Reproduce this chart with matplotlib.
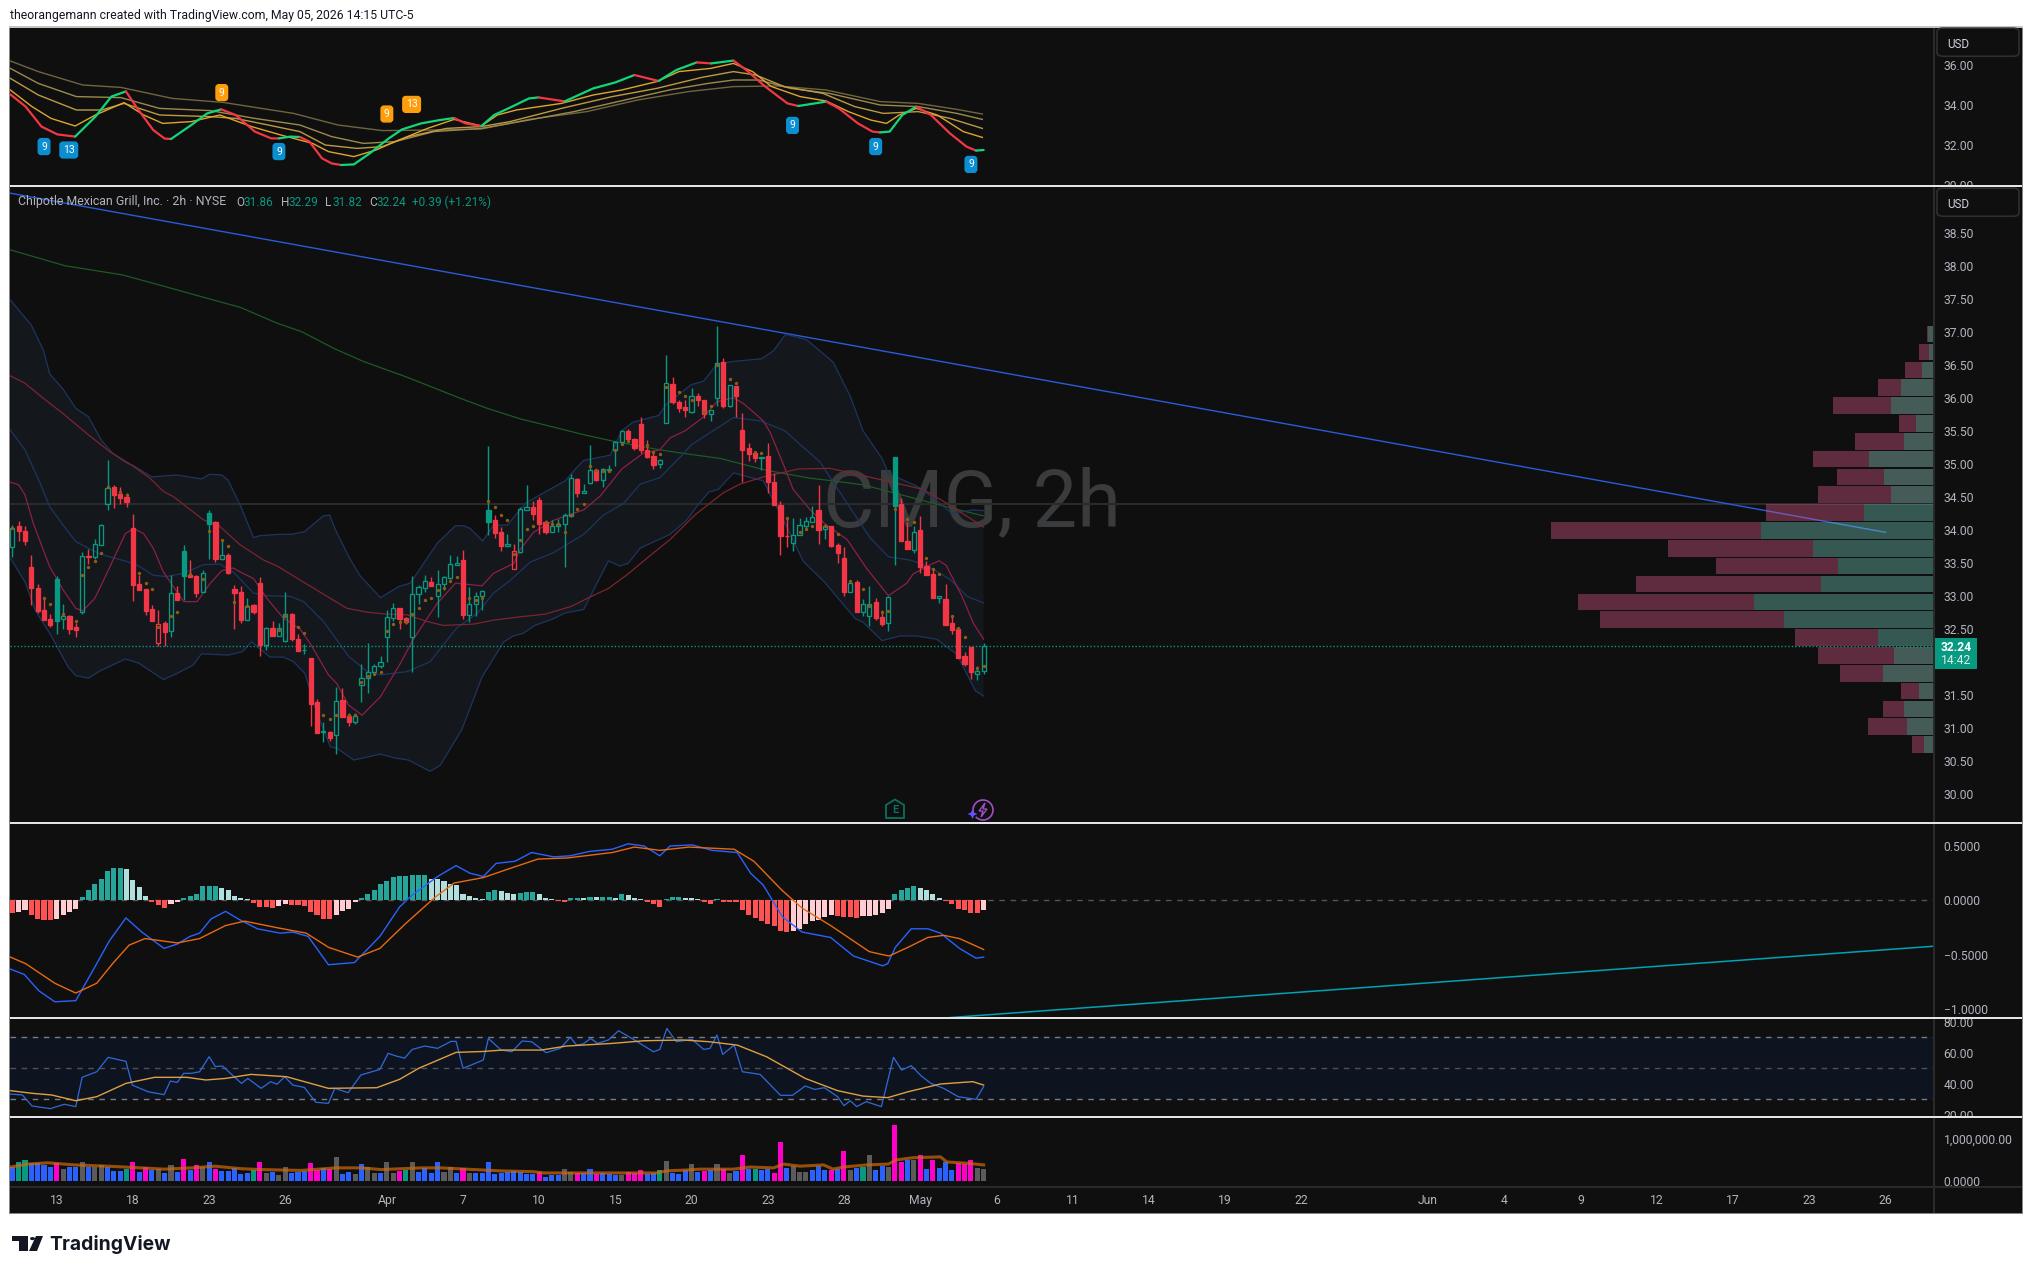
import matplotlib
matplotlib.use("Agg")
import matplotlib.pyplot as plt
import numpy as np
from matplotlib.patches import Circle, FancyBboxPatch, Polygon, Rectangle
from matplotlib.transforms import Bbox, TransformedBbox

W, H = 2032, 1274

# ---- candles (price values)
candle_high = [34.07,34.13,34.06,33.62,33.18,32.98,32.72,33.30,32.87,32.71,32.59,33.66,33.71,33.86,34.09,35.06,34.67,34.65,34.56,34.24,
 33.31,33.10,32.86,32.78,32.61,33.32,33.15,33.77,33.54,33.31,33.39,34.30,34.13,33.85,33.64,33.16,33.15,32.96,32.87,33.28,
 32.53,32.62,32.59,33.06,32.74,32.42,32.27,32.05,31.44,31.09,30.95,31.62,31.60,31.23,31.23,31.97,32.28,31.97,32.09,32.78,
 32.89,32.82,32.68,33.30,33.16,33.31,33.28,33.39,33.30,33.62,33.60,33.69,33.13,33.05,33.09,35.27,34.22,34.04,33.93,33.78,
 34.35,34.68,34.44,34.49,34.14,34.14,34.16,34.25,34.85,34.78,34.69,35.28,34.92,34.93,34.98,35.34,35.51,35.52,35.39,35.71,
 35.36,35.18,35.07,36.65,36.32,35.97,35.96,36.14,36.07,35.97,35.82,37.09,36.60,36.19,36.18,35.77,35.31,35.20,35.10,35.31,
 34.86,34.44,34.18,34.18,34.18,34.19,34.36,34.68,34.09,34.06,33.80,33.74,33.24,33.24,32.95,33.15,32.96,32.78,33.00,35.10,
 34.48,34.12,34.06,34.21,33.52,33.40,33.00,33.18,32.69,32.51,32.15,32.23,31.93,32.29]
candle_top = [34.03,34.06,33.98,33.43,33.12,32.79,32.64,33.25,32.70,32.70,32.53,33.60,33.60,33.78,34.07,34.63,34.65,34.54,34.50,34.03,
 33.18,33.10,32.80,32.57,32.59,33.04,33.04,33.68,33.31,33.30,33.35,34.25,34.12,33.61,33.62,33.10,33.06,32.85,32.86,33.19,
 32.51,32.51,32.51,32.73,32.72,32.35,32.18,32.05,31.39,30.94,30.94,31.41,31.42,31.18,31.17,31.76,31.85,31.93,31.99,32.67,
 32.81,32.81,32.66,33.02,33.13,33.22,33.21,33.17,33.28,33.48,33.49,33.54,32.88,32.99,33.07,34.30,34.15,33.97,33.79,33.67,
 34.32,34.35,34.35,34.45,34.12,34.05,34.09,34.22,34.78,34.77,34.58,34.90,34.90,34.92,34.92,35.33,35.49,35.49,35.38,35.60,
 35.21,35.12,35.06,36.22,36.21,35.94,35.86,36.03,36.03,35.96,35.81,36.52,36.54,36.19,36.18,35.51,35.24,35.16,35.10,35.12,
 34.73,34.38,33.90,33.92,34.07,34.13,34.20,34.30,34.06,34.06,33.77,33.57,33.20,33.21,32.87,32.88,32.90,32.68,32.98,35.10,
 34.39,33.83,33.96,34.00,33.45,33.33,32.99,32.95,32.59,32.50,32.09,32.23,31.86,32.24]
candle_bot = [33.74,33.98,33.83,33.11,32.77,32.63,32.56,32.62,32.64,32.49,32.48,32.76,33.59,33.58,33.77,34.39,34.53,34.48,34.42,33.16,
 33.09,32.77,32.62,32.29,32.45,32.47,32.94,33.30,33.28,33.04,33.05,34.09,33.56,33.56,33.34,33.04,32.63,32.63,32.75,32.25,
 32.26,32.39,32.39,32.32,32.34,32.16,32.17,31.36,30.92,30.94,30.84,30.89,31.16,31.09,31.09,31.64,31.75,31.85,31.93,32.38,
 32.66,32.65,32.60,32.38,33.02,33.12,33.15,33.00,33.17,33.27,33.47,32.71,32.71,32.88,32.99,34.12,33.95,33.75,33.76,33.41,
 33.66,34.30,34.24,34.09,33.97,33.97,34.05,34.09,34.21,34.56,34.56,34.71,34.75,34.76,34.91,35.21,35.33,35.37,35.24,35.21,
 35.10,34.98,34.99,35.61,35.94,35.84,35.82,35.79,35.96,35.76,35.76,36.00,35.88,35.88,36.03,35.21,35.15,35.09,35.09,34.73,
 34.38,33.90,33.90,33.80,33.92,34.05,34.12,34.00,34.01,33.76,33.64,33.06,33.05,32.76,32.76,32.69,32.66,32.57,32.58,34.36,
 33.83,33.71,33.70,33.44,33.32,32.97,32.97,32.56,32.48,32.06,31.96,31.84,31.82,31.86]
candle_low = [33.59,33.83,33.77,32.86,32.74,32.63,32.53,32.42,32.49,32.42,32.38,32.73,33.48,33.55,33.77,34.30,34.33,34.39,34.35,32.92,
 33.09,32.71,32.62,32.24,32.24,32.38,32.94,32.94,33.28,32.98,33.05,33.56,33.51,33.54,33.33,32.50,32.58,32.63,32.72,32.09,
 32.18,32.39,32.39,32.30,32.32,32.16,32.12,31.03,30.92,30.78,30.80,30.60,31.16,31.03,31.06,31.39,31.53,31.80,31.90,31.99,
 32.62,32.50,32.57,31.84,32.88,33.06,33.15,32.68,33.09,33.26,33.47,32.64,32.60,32.69,32.79,33.92,33.87,33.68,33.76,33.41,
 33.65,34.30,34.15,33.93,33.94,33.97,33.97,33.43,34.19,34.50,34.55,34.69,34.74,34.64,34.87,34.97,35.29,35.37,35.21,35.16,
 35.08,34.92,34.94,35.61,35.90,35.79,35.71,35.77,35.87,35.70,35.65,35.87,35.84,35.86,35.71,34.73,35.04,35.02,34.91,34.55,
 34.38,33.62,33.74,33.68,33.92,34.01,34.12,33.79,33.86,33.74,33.50,32.99,33.05,32.76,32.69,32.54,32.63,32.54,32.46,33.47,
 33.83,33.71,33.65,33.35,33.31,32.97,32.89,32.56,32.42,32.05,31.93,31.74,31.73,31.82]
# g hollow green, G filled green, r filled red, R hollow red
candle_kind = ("grrrrrrGgr" "rgrgggrrrr" "rrrRrgrGrr" "gGrgrrrgrr" "grggrrgrrg" "rgrrgggggg" "grrgggrggg" "grgggGrrgR"
               "ggrrrggggr" "ggrggggrrr" "rrggrrrgrr" "ggrgrrrrgr" "rrrggggrgr" "rrgrggrrgG" "rrgrrrgrrr" "rrgg")

# small orange dots on the candles
dot_i = [0,5,6,8,10,11,12,13,14,15,17,18,20,21,22,23,25,26,28,30,31,33,34,35,37,42,43,45,46,49,50,51,53,54,55,56,57,58,59,60,61,62,63,64,65,66,67,68,69,70,72,73,74,75,76,77,78,79,
 80,81,82,84,85,86,87,88,89,90,91,92,93,94,95,96,97,100,101,102,103,105,106,107,109,110,111,113,114,117,118,122,124,125,126,128,130,132,134,135,137,138,139,141,142,144,145,146,148,149,150,152,153]
dot_p = [34.02,32.96,32.88,32.73,32.62,33.32,33.43,33.52,33.64,34.65,34.57,34.53,33.35,33.20,33.10,32.52,32.69,32.75,33.33,33.26,33.98,33.84,33.76,32.90,32.84,32.48,32.69,32.52,32.43,31.19,31.13,31.20,31.20,31.20,31.70,31.78,31.81,31.84,32.47,32.57,32.60,32.60,32.72,32.81,32.93,32.97,33.08,33.11,33.23,33.28,32.96,32.94,32.96,34.43,34.34,34.22,34.14,33.63,
 33.85,34.01,34.06,34.12,34.09,34.09,33.96,34.22,34.32,34.39,34.96,34.90,34.89,34.89,35.21,35.30,35.35,35.29,35.18,35.14,36.16,36.08,36.02,35.97,35.78,35.88,36.49,36.28,36.22,35.18,35.16,34.17,33.96,34.01,34.05,34.06,33.93,33.23,33.10,32.85,32.76,32.77,34.31,34.16,34.11,33.57,33.40,33.33,32.69,32.51,32.37,31.90,31.94]

# ---- overlays on the main pane: bar index and price at each visible bend
bb_upper_i = [-0.3,3,4.9,5.9,8,10,12,14,15.9,18,19.1,22,25.9,29.8,31.1,33,34,36,38,39,42.2,44,46,49,50,50.9,53,54.8,58,60.9,62.7,66.9,69.8,71.1,72.1,74.1,75.8,78,80.8,83.7,87.1,88.7,90,94.2,96,97.8,101.8,103.1,107,108.9,111,113.6,118,119.9,121.8,125.1,129.3,132,134,137,138,142.5,145.1,148,151.4,153]
bb_upper_p = [37.48,37.10,36.72,36.36,36.13,35.84,35.71,35.36,35.15,35.01,34.97,34.80,34.83,34.77,34.84,34.83,34.75,34.35,33.88,33.91,33.93,33.93,33.97,34.21,34.22,34.0,33.59,33.30,32.97,33.14,33.19,33.79,34.06,34.06,34.02,33.83,34.07,34.07,34.40,34.56,34.74,34.92,35.05,35.13,35.50,35.63,35.73,35.91,36.20,36.25,36.51,36.55,36.59,36.71,36.96,36.88,36.54,36.02,35.50,35.08,34.85,34.66,34.48,34.25,34.30,34.29]
bb_mid_i = [-0.3,2,4.4,5.9,8,10,13.8,18,20.1,22.2,24.3,27,30.1,32.7,34.8,38,40.1,43.8,45.9,49,53,55.9,58,62.2,65.8,70,73.2,75.8,78.4,81.6,85.2,90,93.1,96.3,98.9,102,105.5,107,110.4,113.6,117.8,121.7,124.1,127.2,131.5,135.1,138,141.4,144,147.7,150.4,153]
bb_mid_p = [35.51,35.21,34.70,34.35,34.07,33.82,33.63,33.52,33.44,33.31,33.29,33.34,33.47,33.48,33.36,33.04,33.00,32.99,32.91,32.61,32.08,31.85,31.80,31.85,32.0,32.51,32.73,33.04,33.23,33.51,33.65,33.93,34.22,34.40,34.69,34.79,35.13,35.29,35.50,35.70,35.65,35.50,35.29,35.03,34.40,33.88,33.59,33.54,33.46,33.25,32.99,32.89]
bb_lower_i = [-0.3,2,3.6,5.9,8.8,10,12,13.8,17.8,19.9,23.8,25.9,28.5,29.8,34,36.2,37.7,40.6,42.7,44.3,46.1,48,50.1,51.1,53.8,58,60.3,62.4,65.8,67.4,70.8,74,77.4,78.9,80.5,82.3,85.2,87.1,90,93.9,95.7,97,98.9,101.8,103.6,106.2,107.8,109.7,111.2,113.6,115.2,118.3,121.5,124.6,128,132.8,134,137,139.9,142.5,145.6,148.8,151.7,153]
bb_lower_p = [33.57,33.21,32.78,32.43,31.92,31.79,31.75,31.86,32.04,31.98,31.73,31.82,31.95,32.12,32.10,32.15,32.30,32.07,32.07,32.0,31.82,31.22,30.71,30.69,30.51,30.60,30.54,30.51,30.34,30.43,30.97,31.77,32.30,32.39,32.43,32.55,32.65,32.74,32.79,33.53,33.45,33.49,33.72,33.85,33.93,34.14,34.35,34.57,34.61,34.86,34.82,34.74,34.14,33.52,33.20,32.65,32.60,32.32,32.39,32.39,32.34,32.11,31.56,31.48]
ema_fast_i = [-0.3,1,2,3.3,4.9,5.9,8,10,11.1,13,14.9,17.8,19.1,20.7,22.2,23.8,27,29.1,31.2,33,34.8,35.9,38,40.1,42.7,45.3,46.9,49.8,51.1,53,55.1,58,61.1,63.1,66.9,69.8,74,75.8,79,80,82.1,85.2,88.1,90,92.6,96,99.4,102,103.6,106,108.9,111,113.6,115.2,118.3,119.4,121.5,123,125.7,128,131.5,134.6,138,140.9,141.9,144.6,146,147.1,149.6,151.4,153]
ema_fast_p = [34.72,34.68,34.53,34.10,33.69,33.44,33.09,32.81,32.77,32.96,33.34,33.94,34.02,33.94,33.72,33.36,32.91,32.91,33.19,33.38,33.42,33.36,33.26,32.96,32.66,32.5,32.28,31.80,31.67,31.34,31.19,31.47,31.97,32.33,32.88,33.19,33.15,33.34,33.49,33.70,33.96,34.14,34.24,34.30,34.51,34.92,35.16,35.21,35.39,35.50,35.71,35.94,36.0,35.91,35.65,35.47,34.98,34.61,34.30,34.09,33.85,33.41,33.0,33.19,33.33,33.47,33.53,33.46,32.99,32.58,32.34]
ema_slow_i = [-0.3,2,4.9,8,11.7,15.4,18.8,21.7,23.8,25.4,30.1,32.7,35.9,39.6,41.9,45.3,50.1,52.7,55.9,59,62.2,65.3,67.9,72.7,75.8,80,83.9,88.1,91,93.9,97,101,103.6,107.6,112,114.6,118.3,121.5,123.8,128.8,134,139.9,143.5,147.2,151.4,153]
ema_slow_p = [36.33,36.22,35.99,35.76,35.46,35.18,34.98,34.78,34.58,34.50,34.15,34.05,33.77,33.54,33.44,33.24,32.96,32.81,32.75,32.72,32.71,32.61,32.55,32.57,32.63,32.68,32.72,32.84,32.98,33.11,33.33,33.65,33.85,34.23,34.56,34.69,34.80,34.87,34.92,34.93,34.82,34.69,34.61,34.40,34.14,34.04]
ma_long_i = [-0.3,8.3,17.4,24.6,31.7,35.9,41.7,45.6,50.6,55.3,62.2,70.6,74.8,80,84.2,90,94.7,102,106.2,111.5,118.8,125.7,129.3,134,138.8,145.1,150.4,153]
ma_long_p = [38.24,38.0,37.86,37.67,37.48,37.37,37.13,37.0,36.75,36.55,36.31,35.99,35.84,35.68,35.58,35.44,35.34,35.21,35.15,35.08,34.90,34.78,34.74,34.68,34.56,34.40,34.27,34.21]
trend_i = [-0.36, 295.1]
trend_p = [39.10, 33.96]
last_price = 32.24
level_price = 34.39
# 32.00 is hidden behind the last price tag in the picture
main_ticks = [30.0,30.5,31.0,31.5,32.5,33.0,33.5,34.0,34.5,35.0,35.5,36.0,36.5,37.0,37.5,38.0,38.5]

# ---- volume profile, rows top to bottom (buy and sell parts)
vp_up = [18,16,36,98,128,54,89,192,148,128,207,511,357,284,334,531,443,166,119,151,45,89,80,30]
vp_down = [2,29,50,68,171,50,145,165,139,215,289,619,428,359,545,519,542,245,224,127,53,62,115,36]
vp_low, vp_high = 30.60, 37.09

# ---- top pane ribbon
fast_i = [-0.3,2.1,4.6,7.1,9.9,13.1,15.6,17.9,19.7,22.2,24,25,28.2,30.7,32.9,35.2,38.2,40.8,42,43.8,45.3,46.8,48.8,50.3,51.8,53.8,56.3,59.3,61.4,64.4,67.4,69.6,71.4,73.9,75.9,78.4,81.4,82.9,87,91.5,95,98,101.8,104.6,107.8,110.1,113.6,115.6,118.6,122.1,123.8,128.2,130.2,133.2,135.5,136.7,138.2,140.2,142.4,144.7,147.7,150.3,151.8,153]
fast_p = [34.53,33.92,32.92,32.53,32.42,33.42,34.42,34.68,33.83,32.75,32.32,32.30,33.0,33.58,33.78,33.5,32.67,32.33,32.33,32.42,32.40,32.17,31.33,31.08,31.0,31.03,31.58,32.33,32.78,33.08,33.25,33.35,33.08,32.95,33.5,33.87,34.33,34.38,34.18,34.83,35.13,35.5,35.2,35.75,36.13,36.08,36.22,35.75,34.92,34.08,33.95,34.17,33.83,33.08,32.67,32.63,32.67,33.5,33.92,33.5,32.58,31.92,31.72,31.75]
# point indices where the fast line swaps between red and green
fast_flips = [4,7,11,14,18,20,24,31,33,37,38,41,42,44,45,46,50,51,55,58,62]
rib2_i = [-0.3,3.1,6.1,9.9,13.1,17.6,20.7,23.7,28.2,32.7,37.7,42.3,47.3,49.8,53.8,57.3,60.3,65.4,69.6,73.9,76.4,79.4,86.5,91.5,96,101.5,105,110,113.6,116.6,119.6,124.1,128.2,131.7,135.2,137.7,139.7,142.4,145.7,149.8,152.8]
rib2_p = [34.75,33.92,33.33,32.95,33.5,34.12,33.5,33.08,33.17,33.5,32.92,32.5,32.08,31.67,31.42,31.75,32.17,32.83,33.28,32.95,33.5,33.75,34.08,34.5,34.75,35.17,35.67,35.83,36.08,35.67,34.92,34.42,34.2,33.67,33.25,33.08,33.5,33.83,33.5,32.67,32.38]
rib3_i = [-0.3,4.1,10.1,14.1,17.6,23.2,31.2,35.2,40.3,45.3,49.3,54.3,58.3,62.4,68.4,73.9,78.4,86.5,94.5,101.5,108.6,113.6,117.1,121.6,127.7,132.7,137.2,142.7,147.7,152.8]
rib3_p = [35.33,34.5,33.75,33.75,34.08,33.5,33.42,33.33,33.0,32.67,32.0,31.83,31.92,32.42,32.83,32.92,33.17,33.83,34.42,34.83,35.38,35.67,35.5,34.92,34.58,33.92,33.58,33.67,33.33,32.83]
rib4_i = [-0.3,4.1,10.1,17.1,23.2,31.2,38.2,45.3,50.3,55.3,60.3,66.4,73.9,81.4,88.5,96.5,103.5,109.6,113.6,117.6,122.6,128.7,136.7,142.7,148.8,152.8]
rib4_p = [35.83,35.08,34.42,34.37,33.83,33.72,33.33,33.0,32.42,32.08,32.17,32.67,32.83,33.25,33.67,34.25,34.75,35.08,35.25,35.25,34.83,34.58,34.0,33.92,33.58,33.28]
rib5_i = [-0.3,4.1,11.1,17.1,25.2,33.2,44.3,51.3,58.3,66.4,73.9,81.4,90.5,98.5,106.5,113.6,120.6,128.2,136.7,142.7,148.8,152.8]
rib5_p = [36.2,35.67,35.0,34.88,34.33,34.13,33.58,33.0,32.72,32.75,32.8,33.28,33.67,34.25,34.67,34.92,34.95,34.75,34.17,34.08,33.78,33.55]
badge_blue = [(5.0,31.92,"9"),(8.9,31.75,"13"),(42,31.67,"9"),(122.9,32.98,"9"),(136,31.92,"9"),(151,31.03,"9")]
badge_orange = [(33,34.62,"9"),(59,33.55,"9"),(62.9,34.03,"13")]

# ---- MACD
macd_i = [-0.3,1.9,4.2,6.7,10,13.3,15.3,17.9,20.4,23.9,26,28,29.5,31.3,33.6,35.6,38.6,42.2,44.2,46.6,49.8,53.9,57.9,61,63,67,69.9,72.1,74.2,76.2,79.2,81.8,85.3,87.9,90.9,94.5,97,99.5,102,103.6,107.1,110.2,114.2,116.3,118.3,121.3,124.4,128.9,132.5,137.1,137.9,139.1,141.6,144.2,146.2,149.2,151.8,153]
macd_v = [-0.63,-0.68,-0.83,-0.93,-0.92,-0.58,-0.37,-0.16,-0.29,-0.44,-0.40,-0.33,-0.30,-0.17,-0.10,-0.17,-0.26,-0.30,-0.29,-0.33,-0.59,-0.57,-0.33,-0.06,0.05,0.22,0.32,0.25,0.22,0.34,0.36,0.44,0.40,0.41,0.45,0.47,0.52,0.50,0.41,0.50,0.51,0.46,0.44,0.25,0.14,-0.15,-0.29,-0.34,-0.51,-0.60,-0.58,-0.43,-0.26,-0.26,-0.30,-0.44,-0.53,-0.52]
signal_i = [-0.3,2.1,6.7,10,13.3,15.8,18.4,20.9,26,29.5,33.6,36.6,41.7,46.3,49.8,54.4,57.9,62,66.6,69.6,74.2,78.2,82.8,87.4,94.5,98,102,106.6,113.7,116.8,121.3,124.4,128.9,135,138.1,141.1,144.2,146.7,149.2,153]
signal_v = [-0.52,-0.58,-0.76,-0.85,-0.76,-0.58,-0.41,-0.35,-0.39,-0.35,-0.23,-0.19,-0.25,-0.30,-0.43,-0.52,-0.44,-0.21,0.03,0.16,0.21,0.29,0.38,0.39,0.44,0.49,0.46,0.49,0.47,0.36,0.09,-0.07,-0.23,-0.47,-0.51,-0.43,-0.34,-0.32,-0.35,-0.45]
macd_hist = [-.113,-.110,-.092,-.138,-.169,-.181,-.181,-.169,-.138,-.107,-.080,
 .031,.098,.147,.199,.270,.294,.297,.285,.184,.123,.043,
 -.015,-.043,-.067,-.031,-.018,
 .025,.043,.055,.132,.133,.134,.117,.092,.037,.018,.009,
 -.025,-.061,-.062,-.067,-.055,-.031,-.040,-.046,-.055,-.107,-.138,-.172,-.173,-.129,-.101,-.083,-.012,
 .018,.061,.098,.147,.175,.215,.221,.222,.230,.233,.234,.199,.193,.178,.153,.138,.055,.037,.025,.012,
 .074,.092,.086,.067,.055,.067,.077,.078,.055,.025,.015,
 -.006,-.012,
 .025,.026,.018,.034,.031,.031,.031,.025,.055,.052,.025,.012,
 -.015,-.037,-.061,
 .015,.031,.032,.025,.018,.009,
 -.018,-.031,
 .009,
 -.015,-.016,-.018,-.092,-.138,-.160,-.184,-.215,-.239,-.276,-.288,-.282,-.261,-.215,-.184,-.178,-.153,-.138,-.139,-.153,-.154,-.160,-.147,-.141,-.129,-.117,-.080,
 .055,.092,.117,.135,.110,.092,.055,.025,
 -.009,-.031,-.074,-.092,-.113,-.114,-.086]
macd_trend_i = [147.7, 302.7]
macd_trend_v = [-1.075, -0.42]

# ---- RSI
rsi_i = [-0.3,1.6,3.1,6,8.2,10,11,13.3,15.1,17.9,18.9,21.4,23.9,24.9,26,27,28.2,29.5,31,32,33.1,36.1,37.1,39.2,40.7,41.7,42.9,44.2,46,47.8,49.8,50.8,52.9,54.9,57.9,59.2,60.5,61.8,63,65,67,69.1,69.9,71,74.2,75,77,78.7,80.3,81.8,84.1,86.3,87.9,88.9,89.9,91.1,92.2,93.9,95.5,98,101,102,103.1,104.6,107.1,108.9,109.9,111,111.9,113.7,115,117.8,121,122.9,124.9,126.4,127.9,130,131,132,133,134.5,136.9,138.8,140.1,141.6,143.2,144.7,146.7,149,151.8,153]
rsi_v = [33.3,32.7,25.6,23.9,26.7,25.2,44.1,47.7,57.0,54.4,39.1,34.8,32.9,41.7,40.8,46.7,46.7,47.7,57.4,51.0,51.4,40.2,43.4,37.0,41.3,39.6,44.5,39.1,37.6,28.0,27.3,37.0,34.2,45.6,49.2,59.6,57.8,56.5,62.1,64.3,62.8,67.3,67.3,49.9,55.3,69.2,61.7,60.6,67.5,67.1,60.0,62.8,69.9,64.9,65.6,69.2,66.0,68.2,74.2,68.2,60.6,62.1,75.7,67.1,68.6,62.1,62.8,71.4,58.9,64.9,47.7,46.0,32.5,32.5,38.5,36.3,37.4,31.6,25.8,29.0,25.2,28.4,25.2,57.0,48.8,51.6,44.9,40.2,37.0,31.6,29.9,38.1]
rsi_ma_i = [-0.3,3.1,6.2,10,13.3,17.9,22.4,27.5,30.5,33.6,37.6,43.2,49.8,57.4,61,64,69.9,74.2,77.2,83.3,87.3,94.5,99.5,105.6,109.7,114.2,118.8,124.9,130,134,137.9,141.1,146.2,151.3,153]
rsi_ma_v = [35.5,33.8,32.7,29.0,31.6,40.2,44.1,44.1,42.4,43.4,46.0,44.5,37.0,37.4,42.8,49.9,60.2,60.8,61.7,61.7,64.3,66.0,67.7,68.2,67.1,64.9,57.4,43.4,35.5,32.0,31.0,34.8,39.8,41.3,39.1]

# ---- volume, millions of shares
volume_m = [.32,.45,.50,.43,.43,.38,.33,.43,.28,.33,.33,.45,.33,.33,.38,.33,.24,.24,.28,.45,
 .21,.33,.26,.28,.19,.38,.21,.52,.26,.38,.33,.45,.28,.24,.24,.31,.17,.19,.26,.45,
 .19,.21,.14,.33,.19,.21,.24,.43,.26,.31,.28,.57,.17,.21,.17,.40,.33,.19,.19,.45,
 .19,.24,.26,.45,.21,.31,.19,.45,.21,.33,.19,.31,.19,.19,.19,.45,.17,.19,.21,.24,
 .21,.17,.17,.21,.09,.14,.14,.28,.21,.19,.19,.28,.17,.19,.17,.14,.14,.21,.19,.26,
 .17,.19,.26,.47,.19,.17,.26,.40,.21,.24,.26,.40,.28,.19,.24,.61,.28,.28,.26,.28,
 .19,.92,.31,.35,.21,.21,.26,.35,.26,.26,.28,.71,.26,.31,.33,.61,.26,.35,.33,1.32,
 .45,.50,.50,.61,.28,.50,.31,.45,.26,.43,.40,.50,.31,.28]
volume_kind = ("bttbbbbmgb" "bgbggbbbtm" "bmbgbgbmbm" "gbmbbbbbtm" "gbggbbbmmb" "mgbbgbggbg" "gmtgbbbbgg" "bmgbbbbbbb"
               "bbbmbbbggm" "bbmbbbgmmm" "bbtgbbbgbm" "bgmgbmbtbb" "mmbgggbbbm" "bmgbtgbbgm" "mbgmbmbbbm" "mmgg")
vol_ma_i = [-0.3,2.5,5.6,9.8,15.1,20.3,24,28.2,31.9,36.1,39.2,45.5,51,55,58.1,64.4,67.6,72.8,76.8,82.1,83.7,95.2,101.5,103.1,106.2,108.3,113.6,116.2,119.9,121.5,124.1,127.8,129.3,130.9,134.6,138,139.3,141.9,146.2,147.2,150.4,153]
vol_ma_m = [.33,.40,.43,.38,.35,.31,.28,.31,.35,.29,.27,.25,.31,.31,.27,.31,.31,.27,.24,.22,.19,.19,.19,.24,.26,.28,.28,.33,.31,.40,.35,.38,.28,.33,.38,.40,.50,.55,.57,.45,.42,.38]

# ---- time axis
time_ticks = [7,19,31,43,59,71,83,95,107,119,131,143,155,167,179,191,203,223,235,247,259,271,283,295]
time_labels = ["13","18","23","26","Apr","7","10","15","20","23","28","May","6","11","14","19","22","Jun","4","9","12","17","23","26"]

BG = "#0f0f0f"
GREEN = "#089981"
RED = "#f23645"
TXT = "#b2b5be"
XLIM = (-0.36, 302.7)

plt.rcParams["font.family"] = ["Roboto", "DejaVu Sans"]
fig = plt.figure(figsize=(W / 100, H / 100), dpi=100, facecolor="white")


def fx(x):
    return x / W


def fy(y):
    return 1 - y / H


def pane(top, bottom, ylim, ticks=None, labels=None):
    # one pane of the chart, given in picture rows
    ax = fig.add_axes([fx(10), fy(bottom), fx(1934 - 10), (bottom - top) / H], facecolor=BG)
    ax.set_xlim(*XLIM)
    ax.set_ylim(*ylim)
    for s in ax.spines.values():
        s.set_visible(False)
    ax.set_xticks([])
    ax.yaxis.tick_right()
    ax.tick_params(axis="y", length=0, pad=7, labelsize=8.7, labelcolor=TXT)
    if ticks is not None:
        ax.set_yticks(ticks)
        ax.set_yticklabels(labels)
        # labels are cut at the pane edges
        box = TransformedBbox(Bbox([[fx(1934), fy(bottom)], [fx(2022), fy(top)]]), fig.transFigure)
        for lbl in ax.get_yticklabels():
            lbl.set_clip_on(True)
            lbl.set_clip_box(box)
            lbl.set_verticalalignment("center_baseline")
    return ax


def fig_rect(x0, y0, x1, y1, color, z=5):
    fig.add_artist(Rectangle((fx(x0), fy(y1)), (x1 - x0) / W, (y1 - y0) / H, transform=fig.transFigure,
                             facecolor=color, edgecolor="none", zorder=z))


# dark frame behind everything
fig_rect(10, 27, 2022, 1213, BG, z=-1)

# ---- top pane
ax_top = pane(27, 186, (29.95, 37.9), [30, 32, 34, 36], ["30.00", "32.00", "34.00", "36.00"])
ax_top.plot(rib5_i, rib5_p, color="#6f6540", lw=1.0)
ax_top.plot(rib4_i, rib4_p, color="#9c8a4c", lw=1.0)
ax_top.plot(rib3_i, rib3_p, color="#bd9a45", lw=1.0)
ax_top.plot(rib2_i, rib2_p, color="#e0a52c", lw=1.0)
start = 0
is_red = True
for end in fast_flips + [len(fast_i) - 1]:
    ax_top.plot(fast_i[start:end + 1], fast_p[start:end + 1], color="#f23645" if is_red else "#12d67a",
                lw=1.6, solid_capstyle="round")
    start = end
    is_red = not is_red
for badges, col in ((badge_blue, "#0c8fd1"), (badge_orange, "#ff9e0d")):
    for bi, bp, s in badges:
        ax_top.text(bi, bp, s, color="white", fontsize=7.5, ha="center", va="center",
                    bbox=dict(boxstyle="round,pad=0.28", fc=col, ec=col))

# ---- main pane
ax = pane(186, 823, (29.556, 39.208), main_ticks, ["%.2f" % t for t in main_ticks])
ax.text(0.5, 0.5, "CMG, 2h", transform=ax.transAxes, color="#3a3b3d", fontsize=57, ha="center", va="center", zorder=0.5)
ax.fill(bb_upper_i + bb_lower_i[::-1], bb_upper_p + bb_lower_p[::-1], color="#14171c", lw=0, zorder=0.4)
ax.axhline(level_price, color="#2a2a2a", lw=1.5, zorder=0.6)
ax.plot(trend_i, trend_p, color="#2a5bd8", lw=1.0, zorder=1)
ax.plot(ma_long_i, ma_long_p, color="#1d5a24", lw=0.9, zorder=1)
for xs, ys in ((bb_upper_i, bb_upper_p), (bb_mid_i, bb_mid_p), (bb_lower_i, bb_lower_p)):
    ax.plot(xs, ys, color="#1e3560", lw=0.9, zorder=1)
ax.plot(ema_fast_i, ema_fast_p, color="#8c2048", lw=0.9, zorder=1)
ax.plot(ema_slow_i, ema_slow_p, color="#7d2430", lw=0.9, zorder=1)
ax.axhline(last_price, color=GREEN, lw=1, ls=(0, (1, 1.5)), zorder=1.1)

for i, kind in enumerate(candle_kind):
    col = GREEN if kind in "gG" else RED
    ax.vlines(i, candle_top[i], candle_high[i], color=col, lw=1.0, zorder=2)
    ax.vlines(i, candle_low[i], candle_bot[i], color=col, lw=1.0, zorder=2)
    ax.bar(i, max(candle_top[i] - candle_bot[i], 0.01), bottom=candle_bot[i], width=0.66, color=col if kind in "rG" else "none",
           edgecolor=col, lw=0.95, zorder=2.1)
ax.scatter(dot_i, dot_p, s=6, color="#8f5d12", lw=0, zorder=3)

# volume profile sits on a second x scale running leftwards from the price column
vp_ax = ax.twiny()
vp_ax.set_xlim(5674, 0)
vp_ax.axis("off")
edges = np.linspace(vp_low, vp_high, len(vp_up) + 1)[::-1]
step = edges[0] - edges[1]
for r in range(len(vp_up)):
    y = edges[r] - step * 0.47
    darker = 10 <= r <= 17
    vp_ax.barh(y, vp_up[r], height=step * 0.93, color=(112 / 255, 202 / 255, 185 / 255, 0.4) if darker else (152 / 255, 207 / 255, 200 / 255, 0.4), lw=0)
    vp_ax.barh(y, vp_down[r], left=vp_up[r], height=step * 0.93, color=(215 / 255, 90 / 255, 135 / 255, 0.4), lw=0)

# ---- MACD pane
ax_macd = pane(823, 1018, (-1.079, 0.711), [-1, -0.5, 0, 0.5], ["\u22121.0000", "\u22120.5000", "0.0000", "0.5000"])
ax_macd.axhline(0, color="#555555", lw=1, ls=(0, (4, 4)))
hist_colors = []
for i, v in enumerate(macd_hist):
    prev = macd_hist[i - 1] if i else v
    if v >= 0:
        hist_colors.append("#26a69a" if v >= prev else "#b2dfdb")
    else:
        hist_colors.append("#ff5252" if v <= prev else "#ffcdd2")
ax_macd.bar(range(len(macd_hist)), macd_hist, width=0.8, color=hist_colors, zorder=2)
ax_macd.plot(macd_i, macd_v, color="#2962ff", lw=1.0, zorder=3)
ax_macd.plot(signal_i, signal_v, color="#e8690f", lw=1.0, zorder=3)
ax_macd.plot(macd_trend_i, macd_trend_v, color="#00a3b5", lw=1.1, zorder=3)

# ---- RSI pane
ax_rsi = pane(1018, 1117, (18.5, 82.39), [20, 40, 60, 80], ["20.00", "40.00", "60.00", "80.00"])
ax_rsi.axhspan(30, 70, color="#0e1320", lw=0)
ax_rsi.axhline(70, color="#787b86", lw=1, ls=(0, (4, 4)))
ax_rsi.axhline(50, color="#4f5159", lw=1, ls=(0, (4, 4)))
ax_rsi.axhline(30, color="#787b86", lw=1, ls=(0, (4, 4)))
ax_rsi.plot(rsi_i, rsi_v, color="#2f6ad9", lw=0.9, zorder=3)
ax_rsi.plot(rsi_ma_i, rsi_ma_v, color="#e0a040", lw=1.0, zorder=3)

# ---- volume pane
ax_vol = pane(1117, 1187, (-0.142, 1.513), [0, 1], ["0.0000", "1,000,000.00"])
vol_colors = {"b": "#2962ff", "m": "#ff00c8", "g": "#5b5b5b", "t": GREEN}
ax_vol.bar(range(len(volume_m)), volume_m, width=0.8, color=[vol_colors[k] for k in volume_kind], zorder=2)
ax_vol.plot(vol_ma_i, vol_ma_m, color="#d06a0a", lw=2.2, alpha=0.7, zorder=3)

# ---- time axis
ax_time = pane(1187, 1213, (0, 1))
ax_time.set_yticks([])
ax_time.set_xticks(time_ticks)
ax_time.set_xticklabels(time_labels)
ax_time.tick_params(axis="x", length=0, pad=-13.5, labelsize=8.7, labelcolor=TXT)

# ---- frame lines
for y in (186, 823, 1018, 1117):
    fig_rect(10, y - 1, 2022, y + 1, "#e4e4e4", z=6)
fig_rect(10, 1186, 2022, 1187.5, "#2a2a2a", z=6)
fig_rect(1933, 27, 1934.5, 1213, "#2a2a2a", z=5)
fig_rect(9, 26, 10, 1214, "#868686", z=6)
fig_rect(2021.5, 26, 2023, 1214, "#868686", z=6)
fig_rect(9, 26, 2023, 27.5, "#c4c4c4", z=6)
fig_rect(9, 1212.5, 2023, 1214, "#868686", z=6)

# ---- USD boxes
for top in (30.7, 190.7):
    fig_rect(1936, top - 2, 2021, top + 30, BG, z=7)
    fig.add_artist(FancyBboxPatch((fx(1941), fy(top + 23)), (2015 - 1941) / W, 23 / H,
                                  boxstyle="round,pad=0.002,rounding_size=0.003", transform=fig.transFigure,
                                  facecolor=BG, edgecolor="#2f2f2f", lw=1.2, zorder=8))
    fig.text(fx(1947), fy(top + 14), "USD", color="#d1d4dc", fontsize=8.4, va="center", zorder=9)

# ---- last price tag
fig_rect(1935, 638, 1977, 669, GREEN, z=7)
fig.text(fx(1956), fy(647), "%.2f" % last_price, color="white", fontsize=8.7, fontweight="bold", ha="center", va="center", zorder=8)
fig.text(fx(1956), fy(661), "14:42", color="#d7efea", fontsize=8.7, ha="center", va="center", zorder=8)

# ---- legend line in the main pane
fig.text(fx(18), fy(202), "Chipotle Mexican Grill, Inc. \u00b7 2h \u00b7 NYSE", color=TXT, fontsize=8.9, va="center", zorder=8)
for x, lab, val in ((236, "O", "31.86"), (281, "H", "32.29"), (325, "L", "31.82"), (369, "C", "32.24")):
    fig.text(fx(x), fy(202), lab, color=TXT, fontsize=8.5, va="center", zorder=8)
    fig.text(fx(x + 7.5), fy(202), val, color=GREEN, fontsize=8.5, va="center", zorder=8)
fig.text(fx(412), fy(202), "+0.39 (+1.21%)", color=GREEN, fontsize=8.5, va="center", zorder=8)

# ---- earnings and news icons
fig.add_artist(Polygon([(fx(886), fy(805)), (fx(895), fy(799.5)), (fx(904), fy(805)), (fx(904), fy(818)), (fx(886), fy(818))],
                       closed=True, transform=fig.transFigure, facecolor="none", edgecolor="#0b6e5e", lw=1.3, zorder=8))
fig.text(fx(895), fy(810), "E", color="#0b6e5e", fontsize=8, fontweight="bold", ha="center", va="center", zorder=9)
fig.add_artist(Polygon([(fx(985), fy(803)), (fx(979), fy(811)), (fx(983), fy(811)), (fx(981), fy(817)), (fx(987), fy(809)), (fx(983), fy(809))],
                       closed=True, transform=fig.transFigure, facecolor="none", edgecolor="#a04fc4", lw=1, zorder=8))
theta = np.linspace(-2.3, 3.4, 40)
fig.add_artist(plt.Line2D(fx(983) + 10 / W * np.cos(theta), fy(810) + 10 / H * np.sin(theta), transform=fig.transFigure, color="#a04fc4", lw=1.2, zorder=8))
fig.add_artist(Polygon([(fx(972.5), fy(809)), (fx(974), fy(812.5)), (fx(977.5), fy(814)), (fx(974), fy(815.5)), (fx(972.5), fy(819)), (fx(971), fy(815.5)), (fx(967.5), fy(814)), (fx(971), fy(812.5))],
                       closed=True, transform=fig.transFigure, facecolor="#6a4dff", edgecolor="none", zorder=8))

# ---- text outside the chart
fig.text(fx(10), fy(15), "theorangemann created with TradingView.com, May 05, 2026 14:15 UTC-5", color="#131722", fontsize=8.8, va="center")
ink = "#131722"
fig_rect(12, 1236, 27.5, 1241, ink, z=3)
fig_rect(19, 1236, 27.5, 1251, ink, z=3)
fig.add_artist(Circle((fx(32.5), fy(1238.6)), 2.5 / W, transform=fig.transFigure, facecolor=ink, edgecolor="none"))
fig.add_artist(Polygon([(fx(36), fy(1236)), (fx(43), fy(1236)), (fx(37), fy(1251)), (fx(29), fy(1251))], closed=True,
                       transform=fig.transFigure, facecolor=ink, edgecolor="none"))
fig.text(fx(49), fy(1244), "TradingView", color=ink, fontsize=13.9, fontweight="bold", family=["Inter", "DejaVu Sans"], va="center")

fig.savefig("out.png", dpi=100, facecolor="white")
